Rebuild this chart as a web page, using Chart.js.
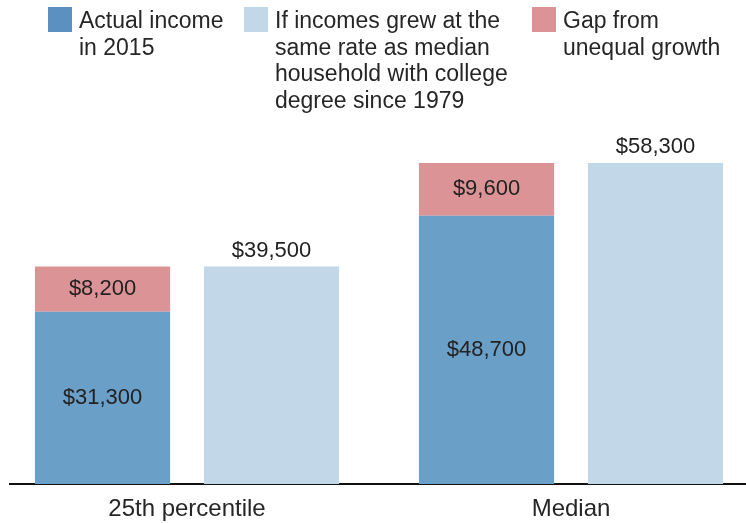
<!DOCTYPE html>
<html><head><meta charset="utf-8">
<script src="https://cdn.jsdelivr.net/npm/chart.js@4/dist/chart.umd.min.js"></script>
<style>
html,body{margin:0;padding:0;background:#fff;width:746px;height:523px;overflow:hidden;font-family:"Liberation Sans",Arial,sans-serif;}
#wrap{position:absolute;left:9px;top:0;width:737px;height:523px;overflow:hidden;}
#c{position:absolute;left:-14px;top:0;}
#legend{position:absolute;left:0;top:0;width:746px;height:130px;z-index:2;}
.item{position:absolute;top:7px;}
.sw{position:absolute;left:0;top:0;width:24px;height:25px;}
.lt{position:absolute;left:31px;top:0px;font-size:23px;line-height:26.7px;color:#262626;white-space:nowrap;}
</style></head>
<body>
<div id="wrap"><canvas id="c" width="768" height="523"></canvas></div>
<div id="legend"></div>
<script>
const categories = ['25th percentile', 'Median'];
const actualIncome = [31300, 48700];
const gapFromUnequalGrowth = [8200, 9600];
const ifSameGrowth = [39500, 58300];
const legendLabels = [
  ['Actual income', 'in 2015'],
  ['If incomes grew at the', 'same rate as median', 'household with college', 'degree since 1979'],
  ['Gap from', 'unequal growth']
];
const legendColors = ['#5b90c0', '#c2d7e8', '#dc9396'];
const legendLefts = [48, 244, 532];

const FONT = '"Liberation Sans", Arial, sans-serif';

// HTML legend
const lg = document.getElementById('legend');
legendLabels.forEach((lines, i) => {
  const it = document.createElement('div');
  it.className = 'item';
  it.style.left = legendLefts[i] + 'px';
  const sw = document.createElement('div');
  sw.className = 'sw';
  sw.style.background = legendColors[i];
  const t = document.createElement('div');
  t.className = 'lt';
  t.innerHTML = lines.join('<br>');
  it.appendChild(sw); it.appendChild(t);
  lg.appendChild(it);
});

const fmt = v => '$' + v.toLocaleString('en-US');

const labelPlugin = {
  id: 'valueLabels',
  afterDatasetsDraw(chart) {
    const ctx = chart.ctx;
    ctx.save();
    ctx.font = '22px ' + FONT;
    ctx.fillStyle = '#222';
    ctx.textAlign = 'center';
    chart.data.datasets.forEach((ds, di) => {
      const meta = chart.getDatasetMeta(di);
      meta.data.forEach((bar, i) => {
        const v = ds.data[i];
        if (ds.stack === 'hypo') {
          ctx.textBaseline = 'alphabetic';
          ctx.fillText(fmt(v), bar.x, bar.y - 10);
        } else {
          ctx.textBaseline = 'middle';
          ctx.fillText(fmt(v), bar.x, (bar.y + bar.base) / 2);
        }
      });
    });
    ctx.restore();
  }
};

new Chart(document.getElementById('c'), {
  type: 'bar',
  data: {
    labels: categories,
    datasets: [
      { label: 'Actual income in 2015', data: actualIncome, backgroundColor: '#6a9fc8', stack: 'actual' },
      { label: 'Gap from unequal growth', data: gapFromUnequalGrowth, backgroundColor: '#dc9396', stack: 'actual' },
      { label: 'If incomes grew at the same rate', data: ifSameGrowth, backgroundColor: '#c2d7e8', stack: 'hypo' }
    ]
  },
  options: {
    responsive: false,
    animation: false,
    devicePixelRatio: 1,
    layout: { padding: 0 },
    datasets: { bar: { categoryPercentage: 0.88, barPercentage: 0.8, borderWidth: 0 } },
    plugins: { legend: { display: false }, tooltip: { enabled: false } },
    scales: {
      x: {
        stacked: true,
        grid: { display: false, drawTicks: false },
        border: { display: true, color: '#111', width: 2 },
        ticks: { font: { family: FONT, size: 24 }, color: '#262626', padding: 11 },
        afterFit(s) { s.height = 39; }
      },
      y: { stacked: true, display: false, min: 0, max: 87900 }
    }
  },
  plugins: [labelPlugin]
});
</script>
</body></html>
